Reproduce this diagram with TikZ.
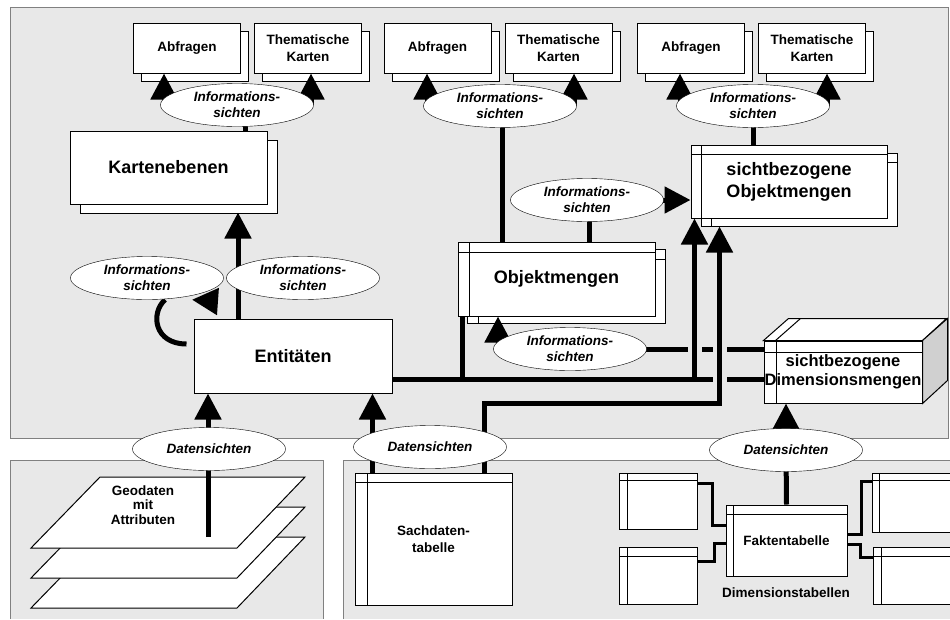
\documentclass[tikz,border=0pt]{standalone}
\usepackage{fontspec}
\setmainfont{Liberation Sans}
\usetikzlibrary{arrows.meta, shapes.geometric, shadows}
\definecolor{feld}{HTML}{E8E8E8}
\definecolor{feldrand}{HTML}{808080}
\definecolor{seite}{HTML}{D0D0D0}
\pgfdeclarelayer{vorn}
\pgfsetlayers{main,vorn}

\begin{document}
\begin{tikzpicture}[x=1pt, y=-1pt, line width=1pt,
klein/.style = {font=\bfseries\fontsize{13.5}{17}\selectfont, align=center},
gross/.style = {font=\bfseries\fontsize{18}{22}\selectfont, align=center},
karte/.style = {draw, fill=white, klein, inner sep=0pt,
                minimum width=107pt, minimum height=50pt,
                general shadow={draw, fill=white, shadow xshift=8pt, shadow yshift=-8pt}},
ebene/.style = {draw, fill=white, gross, inner sep=0pt,
                minimum width=197pt, minimum height=73pt},
tabelle/.style 2 args = {draw, fill=white, inner sep=0pt,
   path picture={
     \draw ([xshift=#1]path picture bounding box.north west) -- ([xshift=#1]path picture bounding box.south west);
     \draw ([yshift=-#2]path picture bounding box.north west) -- ([yshift=-#2]path picture bounding box.north east);}},
sicht/.style = {ellipse, draw, fill=white, inner sep=0pt,
                minimum width=153pt, minimum height=43pt,
                font=\bfseries\itshape\fontsize{13.5}{16}\selectfont, align=center},
dick/.style = {line width=5pt},
pfeil/.style = {dick, -{Triangle[length=26pt, width=26pt]}},
duenn/.style = {line width=2.5pt},
luecke/.style = {draw=feld, line width=14pt}
                        ]
\useasboundingbox (0,0) rectangle (950,619);
% Felder
\filldraw[fill=feld, draw=feldrand] (10,7) rectangle (948,438);
\fill[feld] (10,460) rectangle (323,619);
\draw[feldrand] (10,619) -- (10,460) -- (323,460) -- (323,619);
\fill[feld] (343,460) rectangle (950,619);
\draw[feldrand] (343,619) -- (343,460) -- (950,460);

% Abfragen und Karten
\foreach \n/\x in {1/187, 2/437.5, 3/691} {
  \node[karte] (abf\n) at (\x,48) {Abfragen};
  \node[karte] (them\n) at (\x+121,48) {Thematische\\Karten};
}
\node[ebene, general shadow={draw, fill=white, shadow xshift=10pt, shadow yshift=-9pt}]
  (karten) at (168.5,167.5) {Kartenebenen};
\node[ebene, minimum width=198pt, minimum height=74pt] (ent) at (293,356) {Entitäten};

\node[tabelle={11pt}{10pt}, minimum width=198pt, minimum height=74pt] (objm-s) at (566.5,286) {};
\node[tabelle={11pt}{10pt}, gross, minimum width=197pt, minimum height=74pt] (objm) at (556.5,279) {Objektmengen};
\node[tabelle={10pt}{9pt}, minimum width=196pt, minimum height=73pt] (so-s) at (799,189.5) {};
\node[tabelle={10pt}{9pt}, gross, minimum width=196pt, minimum height=73pt] (so) at (789,181.5) {sichtbezogene\\Objektmengen};

% Quader
\node[tabelle={12pt}{11pt}, font=\bfseries\fontsize{16.5}{19}\selectfont, align=center,
      minimum width=158pt, minimum height=62pt] (dim) at (843,372) {sichtbezogene\\Dimensionsmengen};
\draw[fill=white] (dim.north west) -- ++(25,-22) -- ++(158,0) -- (dim.north east) -- cycle;
\draw[fill=seite] (dim.north east) -- ++(25,-22) -- ++(0,62) -- (dim.south east) -- cycle;
\draw ([xshift=12pt]dim.north west) -- ++(25,-22);

% Geodaten
\foreach \dy in {60,30,0}
  \draw[fill=white] (31,548+\dy) -- (100,477+\dy) -- (305,477+\dy) -- (237,548+\dy) -- cycle;
\node[klein, font=\bfseries\fontsize{13.5}{14.5}\selectfont] (geo) at (143,505) {Geodaten\\mit\\Attributen};
\coordinate (geo-fuss) at (208,537);

\node[tabelle={12pt}{9pt}, klein, minimum width=157pt, minimum height=132pt] (sach) at (433.5,539) {Sachdaten-\\tabelle};
\node[tabelle={7pt}{9pt}, klein, minimum width=121pt, minimum height=71pt] (fakt) at (786.5,540.5) {Faktentabelle};
\node[tabelle={8pt}{7pt}, minimum width=78pt, minimum height=56pt] (dt1) at (658,501) {};
\node[tabelle={8pt}{9pt}, minimum width=78pt, minimum height=57pt] (dt2) at (658,575.5) {};
\node[tabelle={7pt}{7pt}, minimum width=84pt, minimum height=59pt] (dt3) at (914,502.5) {};
\node[tabelle={8pt}{9pt}, minimum width=84pt, minimum height=57pt] (dt4) at (915,575.5) {};
\node[klein] (dimtab) at (786,593) {Dimensionstabellen};

\begin{pgfonlayer}{vorn}
\foreach \n/\x/\y in {1/237/105, 2/500/106, 3/753/106, 4/147/278, 5/303/278, 6/587/200, 7/570/349}
  \node[sicht] (info\n) at (\x,\y) {Informations-\\sichten};
\foreach \n/\x/\y in {1/209/449, 2/430/447, 3/786/450}
  \node[sicht] (daten\n) at (\x,\y) {Datensichten};
\end{pgfonlayer}

% Informationssichten
\foreach \n in {1,2,3} {
  \draw[pfeil] ([xshift=-73pt]info\n.center) -- ([xshift=-73pt]info\n.center |- abf\n.south);
  \draw[pfeil] ([xshift=74pt]info\n.center) -- ([xshift=74pt]info\n.center |- them\n.south);
}
\draw[dick] ([xshift=8pt]info1.center) -- ([xshift=8pt]info1.center |- karten.north);
\draw[pfeil] ([xshift=-55pt]ent.north) -- ([xshift=-55pt,yshift=-8pt]ent.north |- karten.south);
\draw[dick] ([xshift=-7pt,yshift=12pt]ent.west) .. controls +(-32,0) and +(-15,14) .. ([xshift=18pt]info4.south);
\draw[pfeil] ([xshift=24pt,yshift=17pt]ent.north west) -- ([xshift=45pt]info4.south);
\draw[dick] ([xshift=2pt]info2.center) -- ([xshift=2pt]info2.center |- objm.north);
\draw[dick] ([xshift=2pt]info6.center) -- ([xshift=2pt]info6.center |- objm.north);
\draw[pfeil] (info6.center) -- (info6.center -| so.west);
\draw[dick] (info3.center) -- (info3.center |- so.north);
\draw[pfeil] ([xshift=-72pt]info7.center) -- ([xshift=-72pt]info7.center |- objm.south);

% Leitungen zum Quader
\coordinate (bus) at ([yshift=-23pt]ent.east);
\draw[dick] (info7.center) -- (info7.center -| dim.west);
\draw[dick] (bus) -- (bus -| dim.west);
\draw[dick] ([xshift=5pt]objm.south west) -- ([xshift=5pt]objm.south west |- bus);
\draw[luecke] ([xshift=4pt,yshift=6pt]so.south west |- info7.center) -- ([xshift=4pt,yshift=-6pt]so.south west |- info7.center);
\draw[luecke] ([xshift=19pt,yshift=6pt]so-s.south west |- info7.center) -- ([xshift=19pt,yshift=-6pt]so-s.south west |- bus);
\draw[pfeil] ([xshift=4pt]so.south west |- bus) -- ([xshift=4pt]so.south west);
\draw[pfeil] ([xshift=-28pt]sach.north east) -- ++(0,-69) -| ([xshift=19pt]so-s.south west);

% Datensichten
\draw[pfeil] (geo-fuss) -- (geo-fuss |- ent.south);
\draw[pfeil] ([xshift=18pt]sach.north west) -- ([xshift=18pt]sach.north west |- ent.south);
\draw[pfeil] (daten3.center) -- (daten3.center |- dim.south);
\draw[dick] (daten3.center) -- (fakt.north);

\draw[duenn] ([yshift=-11pt]dt1.north east) -- ++(15,0) |- ([yshift=-21pt]fakt.north west);
\draw[duenn] ([yshift=-15pt]dt2.north east) -- ++(17,0) |- ([yshift=-39pt]fakt.north west);
\draw[duenn] ([yshift=-30pt]fakt.north east) -- ++(14,0) |- ([yshift=-9pt]dt3.north west);
\draw[duenn] ([yshift=-40pt]fakt.north east) -- ++(13,0) |- ([yshift=-11pt]dt4.north west);
\end{tikzpicture}
\end{document}
